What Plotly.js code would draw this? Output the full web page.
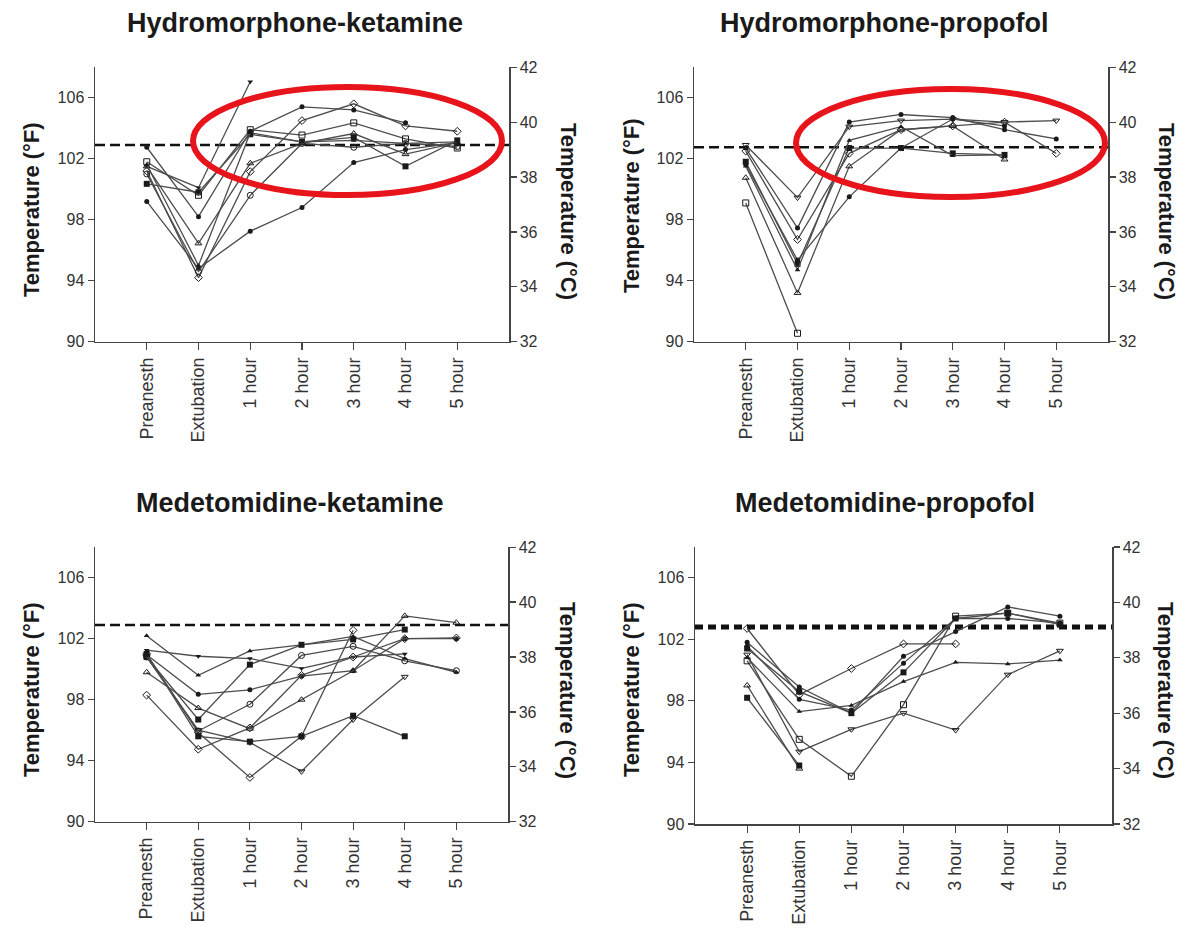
<!DOCTYPE html>
<html><head><meta charset="utf-8">
<script src="https://cdn.plot.ly/plotly-3.0.1.min.js"></script>
<style>html,body{margin:0;padding:0;background:#fff}#chart{width:1185px;height:931px}</style>
</head><body><div id="chart"></div>
<script>
// ---------- data ----------
const categories = ['Preanesth','Extubation','1 hour','2 hour','3 hour','4 hour','5 hour'];
const panelTitles = ['Hydromorphone-ketamine','Hydromorphone-propofol','Medetomidine-ketamine','Medetomidine-propofol'];
const tempTicksF = [90, 94, 98, 102, 106];
const tempTicksC = [32, 34, 36, 38, 40, 42];
const normalTempF = [102.9, 102.75, 102.9, 102.8];

// Hydromorphone-ketamine (°F)
const hk1 = [101.5, 100.1, 107.05, null, null, null, null];
const hk2 = [99.2, 94.8, 97.25, 98.8, 101.75, 102.6, 103.05];
const hk3 = [100.35, 99.8, 103.6, 103.1, 103.4, 101.5, 103.2];
const hk4 = [101.8, 99.6, 103.9, 103.55, 104.35, 103.3, 102.7];
const hk5 = [102.75, 98.2, 103.8, 105.4, 105.2, 104.35, null];
const hk6 = [101.2, 94.2, 101.15, 104.5, 105.6, 104.15, 103.8];
const hk7 = [101.0, 94.6, 99.6, 103.0, 102.75, 103.0, 102.8];
const hk8 = [101.5, 96.45, 101.7, 103.0, 103.65, 102.3, 103.05];
const hk9 = [101.6, 95.0, 103.7, 103.1, 103.2, 103.0, 103.1];

// Hydromorphone-propofol (°F)
const hp1 = [99.1, 90.55, null, null, null, null, null];
const hp2 = [100.75, 93.2, 101.5, 103.9, 104.15, 101.95, null];
const hp3 = [102.9, 99.45, 104.1, 104.5, 104.6, 104.4, 104.5];
const hp4 = [102.7, 97.45, 104.4, 104.9, 104.7, 103.9, 103.3];
const hp5 = [101.8, 95.1, 102.7, 102.7, 102.35, 102.25, null];
const hp6 = [101.6, 95.35, 99.5, 102.7, 104.6, 104.15, null];
const hp7 = [102.5, 96.7, 102.35, 103.9, 104.15, 104.4, 102.35];
const hp8 = [101.5, 94.7, 103.2, 104.1, 102.2, 102.25, null];

// Medetomidine-ketamine (°F)
const mk1 = [102.2, 99.6, 101.2, 101.6, 102.15, 100.7, 99.8];
const mk2 = [101.25, 100.85, 100.7, 100.05, 100.8, 101.0, null];
const mk3 = [100.95, 98.35, 98.65, 99.55, 99.9, 102.0, 102.0];
const mk4 = [100.8, 96.7, 100.3, 101.6, 101.95, 102.6, null];
const mk5 = [100.8, 95.95, 97.7, 100.9, 101.5, 100.55, 99.9];
const mk6 = [99.8, 97.45, 96.1, 98.0, 99.9, 103.5, 103.05];
const mk7 = [98.3, 94.75, 96.15, 99.6, 100.8, 102.0, 102.05];
const mk8 = [101.0, 95.85, 92.9, 95.6, 102.55, null, null];
const mk9 = [100.8, 96.0, 95.2, 93.3, 96.7, 99.5, null];
const mk10 = [101.0, 95.6, 95.25, 95.6, 96.95, 95.6, null];

// Medetomidine-propofol (°F)
const mp1 = [102.7, 98.4, 100.1, 101.7, 101.7, null, null];
const mp2 = [100.6, 95.5, 93.1, 97.75, 103.5, 103.7, 103.05];
const mp3 = [101.0, 94.7, 96.15, 97.2, 96.1, 99.7, 101.25];
const mp4 = [99.0, 93.6, null, null, null, null, null];
const mp5 = [100.8, 97.3, 97.7, 99.25, 100.5, 100.4, 100.65];
const mp6 = [101.8, 98.9, 97.2, 100.9, 102.5, 104.1, 103.5];
const mp7 = [101.55, 98.1, 97.4, 100.45, 103.35, 103.35, 103.05];
const mp8 = [101.4, 98.6, 97.2, 99.85, 103.35, 103.7, 102.95];
const mp9 = [98.2, 93.8, null, null, null, null, null];

const hkData = [hk1, hk2, hk3, hk4, hk5, hk6, hk7, hk8, hk9];
const hpData = [hp1, hp2, hp3, hp4, hp5, hp6, hp7, hp8];
const mkData = [mk1, mk2, mk3, mk4, mk5, mk6, mk7, mk8, mk9, mk10];
const mpData = [mp1, mp2, mp3, mp4, mp5, mp6, mp7, mp8, mp9];

// ---------- styles / layout ----------
const hkSym = ['triangle-down','circle','square','square-open','circle','diamond-open','circle-open','triangle-up-open','triangle-up'];
const hpSym = ['square-open','triangle-up-open','triangle-down-open','circle','square','circle','diamond-open','triangle-up'];
const mkSym = ['triangle-up','triangle-down','circle','square','circle-open','triangle-up-open','diamond-open','diamond-open','triangle-down-open','square'];
const mpSym = ['diamond-open','square-open','triangle-down-open','triangle-up-open','triangle-up','circle','circle','square','square'];

const W = 1185, H = 931;
const FONT = 'Liberation Sans, Arial, Helvetica, sans-serif';
const AX = '#444';

const panels = [
  {data: hkData, sym: hkSym, box: {l: 95, r: 509, t: 67.2, b: 341.7}, title: {x: 295, y: 23}, lt: {x: 31, y: 210}, rt: {x: 568, y: 211}, dash: {w: 2.6, d: '10px,5px'},
   ell: {x0: 193, x1: 502, y0: 87, y1: 195}},
  {data: hpData, sym: hpSym, box: {l: 694, r: 1108, t: 67.2, b: 341.7}, title: {x: 884, y: 23}, lt: {x: 631, y: 206}, rt: {x: 1166, y: 211}, dash: {w: 2.6, d: '10px,5px'},
   ell: {x0: 796, x1: 1105, y0: 89, y1: 197}},
  {data: mkData, sym: mkSym, box: {l: 95, r: 508, t: 547.2, b: 821.7}, title: {x: 290, y: 503}, lt: {x: 31, y: 690}, rt: {x: 568, y: 690}, dash: {w: 2.6, d: '10px,5px'}},
  {data: mpData, sym: mpSym, box: {l: 695, r: 1112, t: 546.9, b: 824}, title: {x: 885, y: 503}, lt: {x: 631, y: 690}, rt: {x: 1166, y: 690}, dash: {w: 5, d: '8px,5px'}}
];

const traces = [];
const layout = {
  width: W, height: H, margin: {l: 0, r: 0, t: 0, b: 0},
  paper_bgcolor: '#fff', plot_bgcolor: 'rgba(0,0,0,0)',
  showlegend: false, font: {family: FONT, color: '#333'},
  shapes: [], annotations: []
};

panels.forEach((p, i) => {
  const n = i + 1;
  const xa = 'x' + (n === 1 ? '' : n), ya = 'y' + (n === 1 ? '' : n), yr = 'y' + (n + 4);
  const xd = [p.box.l / W, p.box.r / W];
  const yd = [1 - p.box.b / H, 1 - p.box.t / H];
  layout['xaxis' + (n === 1 ? '' : n)] = {
    domain: xd, anchor: ya, type: 'category', categoryorder: 'array', categoryarray: categories,
    range: [-1, 7], showline: true, linecolor: AX, linewidth: 1.5, ticks: 'outside', ticklen: 7,
    tickcolor: AX, tickwidth: 1.2, tickangle: -90, showgrid: false, zeroline: false,
    tickfont: {family: FONT, size: 18, color: '#333'}, fixedrange: true
  };
  layout['yaxis' + (n === 1 ? '' : n)] = {
    domain: yd, anchor: xa, range: [90, 108], tickvals: tempTicksF, ticks: 'outside', ticklen: 6,
    tickcolor: AX, tickwidth: 1.2, showline: true, linecolor: AX, linewidth: 1.5, showgrid: false,
    zeroline: false, tickfont: {family: FONT, size: 16, color: '#333'}, fixedrange: true
  };
  layout['yaxis' + (n + 4)] = {
    overlaying: ya, side: 'right', anchor: xa, range: [32, 42], tickvals: tempTicksC, ticks: 'outside',
    ticklen: 6, tickcolor: AX, tickwidth: 1.2, showline: true, linecolor: AX, linewidth: 1.5,
    showgrid: false, zeroline: false, tickfont: {family: FONT, size: 16, color: '#333'}, fixedrange: true
  };
  traces.push({x: [categories[0]], y: [null], xaxis: xa, yaxis: yr, mode: 'markers', hoverinfo: 'skip'});

  layout.shapes.push({type: 'line', xref: xa, yref: ya, x0: -1, x1: 7, y0: normalTempF[i], y1: normalTempF[i],
    line: {color: '#111', width: p.dash.w, dash: p.dash.d}, layer: 'below'});

  p.data.forEach((s, k) => {
    const sym = p.sym[k];
    const open = sym.indexOf('open') >= 0;
    const small = (sym === 'circle' || sym === 'triangle-up' || sym === 'triangle-down');
    traces.push({
      x: categories, y: s, xaxis: xa, yaxis: ya, type: 'scatter', mode: 'lines+markers',
      connectgaps: false, cliponaxis: false,
      line: {color: '#4d4d4d', width: 1.3},
      marker: {symbol: sym, size: open ? 6 : (small ? 5 : 6), color: '#1a1a1a', line: {color: '#1a1a1a', width: open ? 1 : 0}},
      hoverinfo: 'y'
    });
  });

  layout.annotations.push({text: '<b>' + panelTitles[i] + '</b>', xref: 'paper', yref: 'paper',
    x: p.title.x / W, y: 1 - p.title.y / H, xanchor: 'center', yanchor: 'middle', showarrow: false,
    font: {family: FONT, size: 27, color: '#1a1a1a'}});
  layout.annotations.push({text: '<b>Temperature (°F)</b>', xref: 'paper', yref: 'paper',
    x: p.lt.x / W, y: 1 - p.lt.y / H, xanchor: 'center', yanchor: 'middle', textangle: -90, showarrow: false,
    font: {family: FONT, size: 22, color: '#1a1a1a'}});
  layout.annotations.push({text: '<b>Temperature (°C)</b>', xref: 'paper', yref: 'paper',
    x: p.rt.x / W, y: 1 - p.rt.y / H, xanchor: 'center', yanchor: 'middle', textangle: 90, showarrow: false,
    font: {family: FONT, size: 22, color: '#1a1a1a'}});

  if (p.ell) {
    layout.shapes.push({type: 'circle', xref: 'paper', yref: 'paper',
      x0: p.ell.x0 / W, x1: p.ell.x1 / W, y0: 1 - p.ell.y1 / H, y1: 1 - p.ell.y0 / H,
      line: {color: '#e8141c', width: 6}, layer: 'above'});
  }
});

Plotly.newPlot('chart', traces, layout, {displayModeBar: false, staticPlot: true});
</script>
</body></html>
